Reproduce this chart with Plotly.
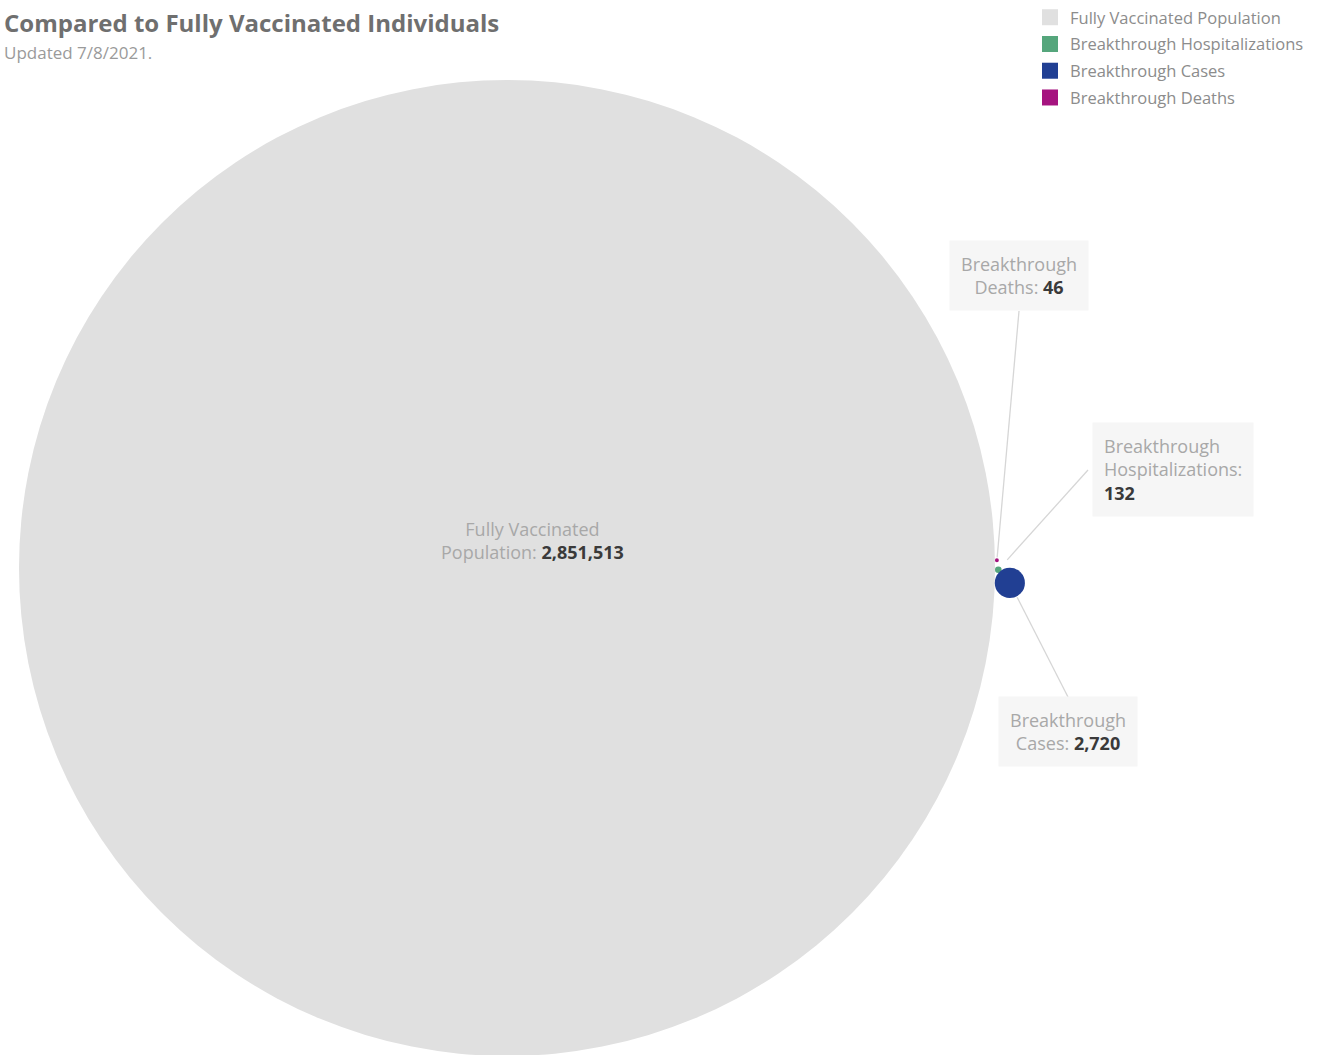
import math
import plotly.graph_objects as go

# ---------------- data ----------------
categories = ["Fully Vaccinated Population", "Breakthrough Hospitalizations",
              "Breakthrough Cases", "Breakthrough Deaths"]
label_lines = [["Fully Vaccinated", "Population"], ["Breakthrough", "Hospitalizations"],
               ["Breakthrough", "Cases"], ["Breakthrough", "Deaths"]]
values = [2851513, 132, 2720, 46]
title_text = "Compared to Fully Vaccinated Individuals"
subtitle_text = "Updated 7/8/2021."

# ---------------- styling / layout ----------------
colors = ["#e0e0e0", "#55a67c", "#213f93", "#a5137f"]
W, H = 1317, 1055
FONT = "Open Sans"
big_center = (507, 568)
big_radius = 488            # pixel radius of the largest bubble
# packing: angle (deg, clockwise from +x) where each small bubble touches the big one
touch_angle = [None, 0.2, 1.7, -0.9]
# label boxes (center x, center y, align)
label_pos = [(532, 540, "center"), (1173, 469, "left"), (1068, 731, "center"), (1019, 275, "center")]
label_anchor = [None, (1088, 470), (1068, 697), (1019, 311)]

vmax = max(values)
radii = [big_radius * math.sqrt(v / vmax) for v in values]
centers = []
for i, r in enumerate(radii):
    if touch_angle[i] is None:
        centers.append(big_center)
    else:
        a = math.radians(touch_angle[i])
        d = big_radius + r
        centers.append((big_center[0] + d * math.cos(a), big_center[1] + d * math.sin(a)))

fig = go.Figure()

shapes = []
# leader lines (below bubbles)
for i in range(len(values)):
    if label_anchor[i] is None:
        continue
    cx, cy = centers[i]
    ax, ay = label_anchor[i]
    dx, dy = ax - cx, ay - cy
    L = math.hypot(dx, dy)
    gap = radii[i] + (10 if i == 1 else 1)
    shapes.append(dict(type="line", xref="x", yref="y",
                       x0=cx + dx / L * gap, y0=cy + dy / L * gap, x1=ax, y1=ay,
                       line=dict(color="#d6d6d6", width=1.3), layer="below"))
# bubbles
for i, r in enumerate(radii):
    cx, cy = centers[i]
    shapes.append(dict(type="circle", xref="x", yref="y",
                       x0=cx - r, x1=cx + r, y0=cy - r, y1=cy + r,
                       fillcolor=colors[i], line=dict(width=0), layer="above"))

annotations = []
for i, v in enumerate(values):
    lx, ly, al = label_pos[i]
    l1, l2 = label_lines[i]
    num = f"<b><span style='color:#3a3a3a'>{v:,}</span></b>"
    if i == 1:
        txt = f"{l1}<br>{l2}:<br>{num}"
    else:
        txt = f"{l1}<br>{l2}: {num}"
    ann = dict(x=lx, y=ly, xref="x", yref="y", text=txt, showarrow=False, align=al,
               font=dict(family=FONT, size=18, color="#a8a8a8"),
               xanchor="center", yanchor="middle")
    if i != 0:
        ann.update(bgcolor="#f6f6f6", borderpad=11)
    annotations.append(ann)

annotations.append(dict(x=2, y=22, xref="x", yref="y", text=f"<b>{title_text}</b>",
                        showarrow=False, xanchor="left", yanchor="middle",
                        font=dict(family=FONT, size=24, color="#6f6f6f")))
annotations.append(dict(x=2, y=52, xref="x", yref="y", text=subtitle_text,
                        showarrow=False, xanchor="left", yanchor="middle",
                        font=dict(family=FONT, size=17, color="#9a9a9a")))

# legend entries
for i in [0, 1, 2, 3]:
    fig.add_trace(go.Scatter(x=[None], y=[None], mode="markers", name=categories[i],
                             legendgroup=f"g{i}",
                             marker=dict(symbol="square", size=17, color=colors[i]),
                             showlegend=True, hoverinfo="skip"))

fig.update_layout(
    width=W, height=H, margin=dict(l=0, r=0, t=0, b=0),
    paper_bgcolor="white", plot_bgcolor="white",
    xaxis=dict(range=[0, W], visible=False, fixedrange=True),
    yaxis=dict(range=[H, 0], visible=False, fixedrange=True),
    shapes=shapes, annotations=annotations,
    legend=dict(x=1030 / W, y=1 - 0 / H, xanchor="left", yanchor="top",
                font=dict(family=FONT, size=16.5, color="#8c8c8c"),
                bgcolor="rgba(0,0,0,0)", itemwidth=30, tracegroupgap=2.3),
    showlegend=True,
)

fig.write_html("out.html", config={"displayModeBar": False},
               post_script="document.body.style.margin='0';")
